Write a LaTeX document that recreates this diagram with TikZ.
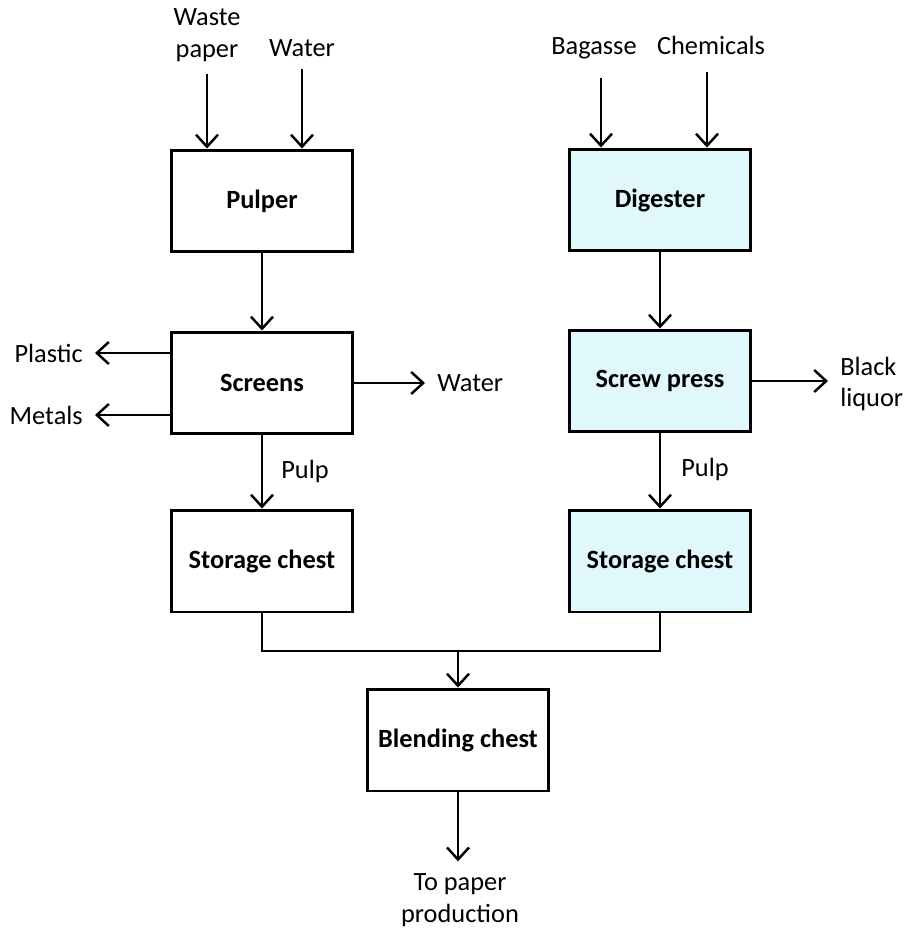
\documentclass[tikz,border=0pt]{standalone}
\usepackage{fontspec}
\setmainfont{Carlito}
\usetikzlibrary{arrows.meta}

\definecolor{paleblue}{RGB}{224,248,251}
\tikzset{
	unit/.style={draw, line width=1.7pt, minimum width=3.62cm, minimum height=2.04cm, font=\fontsize{15}{18}\selectfont\bfseries},
	stream/.style={inner sep=2pt, outer sep=5pt, align=center},
	flow/.style={line width=1.4pt, -{Straight Barb[length=2.4mm, width=4.4mm, line width=1.4pt]}},
	pipe/.style={line width=1.4pt}
}

\begin{document}
\begin{tikzpicture}[x=0.02cm, y=-0.02cm, font=\fontsize{15}{18}\selectfont]
		\useasboundingbox (0,0) rectangle (906,932);

		\node[unit] (pulper) at (262,201) {Pulper};
		\node[unit] (screens) at (262,383) {Screens};
		\node[unit] (storeL) at (262,561) {Storage chest};
		\node[unit, fill=paleblue] (digester) at (660,200) {Digester};
		\node[unit, fill=paleblue] (press) at (660,381) {Screw press};
		\node[unit, fill=paleblue] (storeR) at (660,561) {Storage chest};
		\node[unit] (blend) at (458,740) {Blending chest};

		\node[stream] (waste) at (207,35) {Waste\\paper};
		\node[stream, anchor=base] (waterin) at (302,57) {Water};
		\node[stream, anchor=base] (bagasse) at (594,55) {Bagasse};
		\node[stream, anchor=base] (chem) at (711,55) {Chemicals};
		\node[stream, anchor=east] (plastic) at (95,353) {Plastic};
		\node[stream, anchor=east] (metals) at (95,415) {Metals};
		\node[stream, anchor=west] (waterout) at (425,383) {Water};
		\node[stream, anchor=west, align=left] (liquor) at (828,384) {Black\\liquor};
		\node[stream] (pulpL) at (305,471) {Pulp};
		\node[stream] (pulpR) at (705,469) {Pulp};
		\node[stream] (paper) at (460,900) {To paper\\production};

		\coordinate (join) at (458,651);
		\coordinate (bagin) at (601,78);
		\coordinate (chemin) at (707,72);

		\draw[flow] (waste) -- (waste |- pulper.north);
		\draw[flow] (waterin) -- (waterin |- pulper.north);
		\draw[flow] (bagin) -- (bagin |- digester.north);
		\draw[flow] (chemin) -- (chemin |- digester.north);

		\draw[flow] (pulper) -- (screens);
		\draw[flow] (screens) -- (storeL);
		\draw[flow] (plastic -| screens.west) -- (plastic);
		\draw[flow] (metals -| screens.west) -- (metals);
		\draw[flow] (screens) -- (waterout);

		\draw[flow] (digester) -- (press);
		\draw[flow] (press) -- (storeR);
		\draw[flow] (press.east) -- (press.east -| liquor.west);

		\draw[pipe] (storeL.south) |- (join) -| (storeR.south);
		\draw[flow] (join) -- (blend.north);
		\draw[flow] (blend.south) -- (blend.south |- paper.north);
	\end{tikzpicture}
\end{document}
